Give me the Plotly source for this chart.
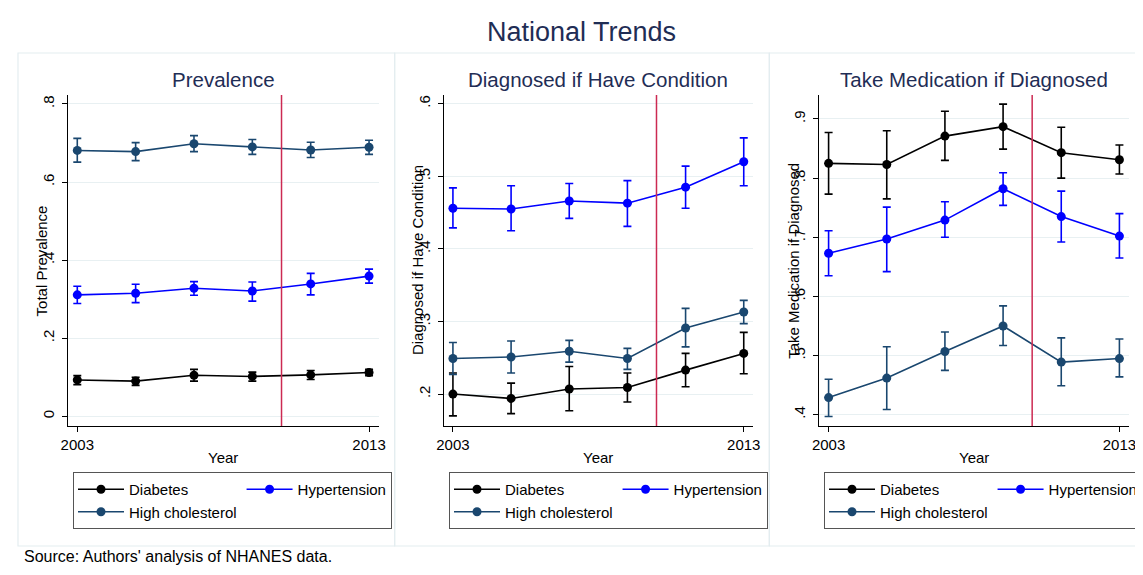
import plotly.graph_objects as go

# ---------------- data ----------------
years = [2003, 2005, 2007, 2009, 2011, 2013]
cutoff_year = 2010
series_names = ["Diabetes", "Hypertension", "High cholesterol"]

# Panel 1: Prevalence
prev_diabetes = [0.093, 0.090, 0.105, 0.102, 0.106, 0.112]
prev_diabetes_lo = [0.081, 0.079, 0.090, 0.090, 0.094, 0.104]
prev_diabetes_hi = [0.104, 0.100, 0.120, 0.113, 0.117, 0.120]
prev_hypertension = [0.311, 0.315, 0.328, 0.321, 0.339, 0.359]
prev_hypertension_lo = [0.289, 0.291, 0.310, 0.295, 0.311, 0.341]
prev_hypertension_hi = [0.333, 0.338, 0.345, 0.344, 0.366, 0.377]
prev_cholesterol = [0.681, 0.678, 0.698, 0.690, 0.682, 0.689]
prev_cholesterol_lo = [0.651, 0.655, 0.678, 0.671, 0.663, 0.671]
prev_cholesterol_hi = [0.712, 0.701, 0.719, 0.709, 0.702, 0.707]

# Panel 2: Diagnosed if have condition
diag_diabetes = [0.200, 0.194, 0.207, 0.209, 0.233, 0.256]
diag_diabetes_lo = [0.170, 0.173, 0.177, 0.189, 0.210, 0.228]
diag_diabetes_hi = [0.229, 0.215, 0.238, 0.229, 0.256, 0.285]
diag_hypertension = [0.456, 0.455, 0.466, 0.463, 0.485, 0.520]
diag_hypertension_lo = [0.429, 0.425, 0.442, 0.431, 0.456, 0.487]
diag_hypertension_hi = [0.484, 0.487, 0.490, 0.494, 0.514, 0.553]
diag_cholesterol = [0.249, 0.251, 0.259, 0.249, 0.291, 0.313]
diag_cholesterol_lo = [0.227, 0.229, 0.244, 0.234, 0.265, 0.297]
diag_cholesterol_hi = [0.271, 0.273, 0.274, 0.263, 0.318, 0.329]

# Panel 3: Take medication if diagnosed
med_diabetes = [0.825, 0.823, 0.871, 0.887, 0.843, 0.831]
med_diabetes_lo = [0.773, 0.765, 0.830, 0.849, 0.800, 0.807]
med_diabetes_hi = [0.877, 0.880, 0.913, 0.925, 0.886, 0.856]
med_hypertension = [0.673, 0.697, 0.729, 0.782, 0.735, 0.702]
med_hypertension_lo = [0.635, 0.642, 0.700, 0.754, 0.692, 0.665]
med_hypertension_hi = [0.711, 0.751, 0.760, 0.809, 0.778, 0.740]
med_cholesterol = [0.429, 0.462, 0.507, 0.550, 0.489, 0.495]
med_cholesterol_lo = [0.397, 0.409, 0.475, 0.517, 0.449, 0.464]
med_cholesterol_hi = [0.460, 0.515, 0.540, 0.584, 0.530, 0.528]

panel_titles = ["Prevalence", "Diagnosed if Have Condition", "Take Medication if Diagnosed"]
y_titles = ["Total Prevalence", "Diagnosed if Have Condition", "Take Medication if Diagnosed"]
p1_ticks = [0, 0.2, 0.4, 0.6, 0.8]
p1_ticktext = ["0", ".2", ".4", ".6", ".8"]
p2_ticks = [0.2, 0.3, 0.4, 0.5, 0.6]
p2_ticktext = [".2", ".3", ".4", ".5", ".6"]
p3_ticks = [0.4, 0.5, 0.6, 0.7, 0.8, 0.9]
p3_ticktext = [".4", ".5", ".6", ".7", ".8", ".9"]
x_ticks = [2003, 2013]
x_ticktext = ["2003", "2013"]

# ---------------- styling ----------------
PAGE_OFF = 8          # default body margin of the html page
W, H = 1143 - PAGE_OFF, 575 - PAGE_OFF
FONT = "Liberation Sans, Arial, Helvetica, sans-serif"
NAVY_TXT = "#1f2d55"
colors = {"Diabetes": "#000000", "Hypertension": "#0000ff", "High cholesterol": "#1a476f"}
RED = "#cc2a52"
GRID = "#e8f0f2"
BOX = "#e4edf0"

def px(x):
    return (x - PAGE_OFF) / W

def py(y):
    return 1 - (y - PAGE_OFF) / H

panels = [
    dict(series=[(prev_diabetes, prev_diabetes_lo, prev_diabetes_hi),
                 (prev_hypertension, prev_hypertension_lo, prev_hypertension_hi),
                 (prev_cholesterol, prev_cholesterol_lo, prev_cholesterol_hi)],
         ticks=p1_ticks, ticktext=p1_ticktext, yrange=[-0.025, 0.823],
         xdom=[68, 379], legend_x=73),
    dict(series=[(diag_diabetes, diag_diabetes_lo, diag_diabetes_hi),
                 (diag_hypertension, diag_hypertension_lo, diag_hypertension_hi),
                 (diag_cholesterol, diag_cholesterol_lo, diag_cholesterol_hi)],
         ticks=p2_ticks, ticktext=p2_ticktext, yrange=[0.156, 0.612],
         xdom=[444, 754], legend_x=449),
    dict(series=[(med_diabetes, med_diabetes_lo, med_diabetes_hi),
                 (med_hypertension, med_hypertension_lo, med_hypertension_hi),
                 (med_cholesterol, med_cholesterol_lo, med_cholesterol_hi)],
         ticks=p3_ticks, ticktext=p3_ticktext, yrange=[0.381, 0.9405],
         xdom=[820, 1130], legend_x=825),
]
ydom = [py(426), py(95)]

fig = go.Figure()
layout = dict(
    width=W, height=H,
    margin=dict(l=0, r=0, t=0, b=0),
    paper_bgcolor="white", plot_bgcolor="white",
    font=dict(family=FONT, size=15, color="#000000"),
    showlegend=True,
)
annotations = []
shapes = []

# Frame boxes
shapes.append(dict(type="rect", xref="paper", yref="paper",
                   x0=px(5.5), x1=px(1160), y0=py(5.5), y1=py(590),
                   line=dict(color=BOX, width=1.2), layer="below"))
for x0, x1 in [(18, 395), (395, 770), (770, 1160)]:
    shapes.append(dict(type="rect", xref="paper", yref="paper",
                       x0=px(x0), x1=px(x1), y0=py(53), y1=py(546),
                       line=dict(color=BOX, width=1.2), layer="below"))

groups = ["a", "b", "a"]
for i, p in enumerate(panels):
    n = i + 1
    xa = "x" if n == 1 else f"x{n}"
    ya = "y" if n == 1 else f"y{n}"
    leg = "legend" if n == 1 else f"legend{n}"
    for name, (vals, lo, hi), g in zip(series_names, p["series"], groups):
        c = colors[name]
        fig.add_trace(go.Scatter(
            x=years, y=vals, name=name, mode="lines+markers",
            xaxis=xa, yaxis=ya, legend=leg, legendgroup=f"p{n}{g}",
            line=dict(color=c, width=1.6),
            marker=dict(color=c, size=9),
            error_y=dict(type="data", symmetric=False,
                         array=[h - v for h, v in zip(hi, vals)],
                         arrayminus=[v - l for v, l in zip(vals, lo)],
                         color=c, thickness=1.6, width=4),
            hoverinfo="x+y",
        ))
    xkey = "xaxis" if n == 1 else f"xaxis{n}"
    ykey = "yaxis" if n == 1 else f"yaxis{n}"
    layout[xkey] = dict(
        domain=[px(p["xdom"][0]), px(p["xdom"][1])], anchor=ya,
        range=[2002.68, 2013.33], tickvals=x_ticks, ticktext=x_ticktext,
        showgrid=False, zeroline=False, showline=True, linecolor="#000", linewidth=1,
        ticks="outside", ticklen=5, tickcolor="#000",
        tickfont=dict(size=15, color="#000"), automargin=False,
    )
    layout[ykey] = dict(
        domain=ydom, anchor=xa, range=p["yrange"],
        tickvals=p["ticks"], ticktext=p["ticktext"], tickangle=-90,
        showgrid=True, gridcolor=GRID, gridwidth=1, zeroline=False,
        showline=True, linecolor="#000", linewidth=1,
        ticks="outside", ticklen=5, tickcolor="#000", ticklabelstandoff=2,
        tickfont=dict(size=15, color="#000"), automargin=False,
    )
    layout[leg] = dict(
        x=px(p["legend_x"]), y=py(472), xanchor="left", yanchor="top",
        orientation="h", traceorder="grouped", tracegroupgap=0,
        bgcolor="white", bordercolor="#555555", borderwidth=1,
        font=dict(size=15, color="#000"), itemwidth=46,
    )
    # red vertical line
    shapes.append(dict(type="line", xref=xa, yref=f"{ya} domain",
                       x0=cutoff_year, x1=cutoff_year, y0=0, y1=1,
                       line=dict(color=RED, width=1.5)))
    # panel title
    annotations.append(dict(text=panel_titles[i], xref=f"{xa} domain", yref="paper",
                            x=0.5, y=py(79), xanchor="center", yanchor="middle",
                            showarrow=False, font=dict(size=20.5, color=NAVY_TXT)))
    # y title
    annotations.append(dict(text=y_titles[i], xref=f"{xa} domain", yref=f"{ya} domain",
                            x=0, y=0.5, xshift=-26, xanchor="center", yanchor="middle",
                            textangle=-90, showarrow=False,
                            font=dict(size=15, color="#000")))
    # x title
    annotations.append(dict(text="Year", xref=f"{xa} domain", yref="paper",
                            x=0.5, y=py(457), xanchor="center", yanchor="middle",
                            showarrow=False, font=dict(size=15, color="#000")))

annotations.append(dict(text="National Trends", xref="paper", yref="paper",
                        x=px(582), y=py(32), xanchor="center", yanchor="middle",
                        showarrow=False, font=dict(size=27, color=NAVY_TXT)))
annotations.append(dict(text="Source: Authors' analysis of NHANES data.", xref="paper", yref="paper",
                        x=px(22), y=py(556), xanchor="left", yanchor="middle",
                        showarrow=False, font=dict(size=16, color="#000")))

layout["annotations"] = annotations
layout["shapes"] = shapes
fig.update_layout(**layout)
fig.write_html("out.html")
